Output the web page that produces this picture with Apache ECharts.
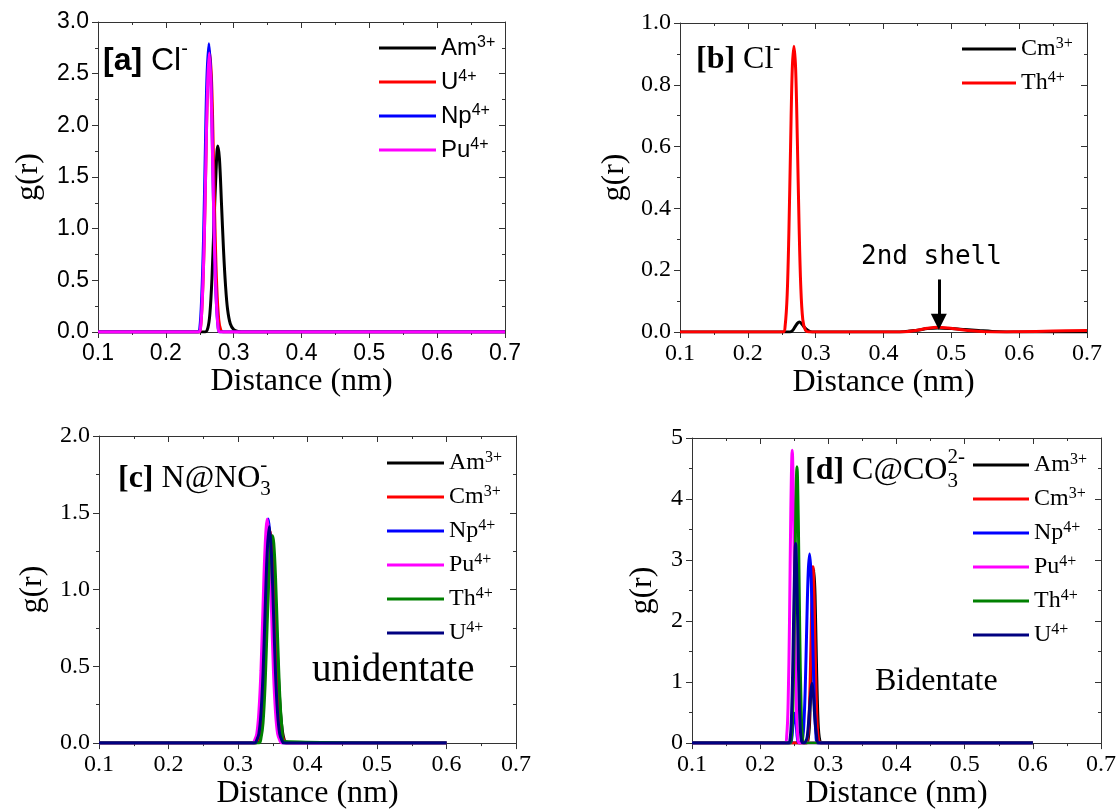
<!DOCTYPE html>
<html><head><meta charset="utf-8">
<script src="https://cdn.jsdelivr.net/npm/echarts@6/dist/echarts.min.js"></script>
<style>html,body{margin:0;padding:0;background:#fff}#c{width:1119px;height:811px}</style>
</head><body><div id="c"></div>
<script>
// ---------------- DATA ----------------
const xTicks = [0.1, 0.2, 0.3, 0.4, 0.5, 0.6, 0.7];
// Panel [a] Cl-
const aAmX = [0.1, 0.258, 0.262, 0.265, 0.268, 0.271, 0.274, 0.2765, 0.279, 0.282, 0.285, 0.288, 0.291, 0.295, 0.300, 0.306, 0.312, 0.7];
const aAmY = [0, 0, 0.04, 0.18, 0.52, 1.05, 1.55, 1.80, 1.68, 1.25, 0.80, 0.45, 0.22, 0.08, 0.025, 0.005, 0, 0];
const aUX = [0.1, 0.248, 0.251, 0.254, 0.2565, 0.259, 0.2615, 0.2645, 0.2675, 0.270, 0.2725, 0.275, 0.278, 0.281, 0.285, 0.7];
const aUY = [0, 0, 0.03, 0.34, 0.85, 1.62, 2.36, 2.72, 2.42, 1.75, 1.0, 0.45, 0.12, 0.02, 0, 0];
const aNpX = [0.1, 0.247, 0.250, 0.253, 0.2555, 0.258, 0.2605, 0.2635, 0.2665, 0.269, 0.2715, 0.274, 0.277, 0.280, 0.7];
const aNpY = [0, 0, 0.03, 0.36, 0.88, 1.68, 2.44, 2.79, 2.44, 1.68, 0.88, 0.36, 0.05, 0, 0];
const aPuX = [0.1, 0.248, 0.251, 0.254, 0.2565, 0.259, 0.2615, 0.264, 0.2665, 0.269, 0.2715, 0.274, 0.277, 0.280, 0.7];
const aPuY = [0, 0, 0.03, 0.36, 0.87, 1.65, 2.38, 2.70, 2.38, 1.65, 0.87, 0.36, 0.05, 0, 0];
// Panel [b] Cl-
const bCmX = [0.1, 0.262, 0.266, 0.270, 0.273, 0.276, 0.279, 0.283, 0.288, 0.295, 0.40, 0.43, 0.45, 0.465, 0.48, 0.50, 0.52, 0.54, 0.56, 0.60, 0.7];
const bCmY = [0, 0, 0.005, 0.018, 0.028, 0.032, 0.028, 0.016, 0.006, 0, 0, 0.001, 0.006, 0.011, 0.013, 0.011, 0.008, 0.005, 0.002, 0, 0];
const bThX = [0.1, 0.252, 0.255, 0.258, 0.2605, 0.263, 0.2655, 0.268, 0.2705, 0.273, 0.2755, 0.278, 0.281, 0.285, 0.29, 0.40, 0.43, 0.45, 0.465, 0.48, 0.495, 0.51, 0.53, 0.55, 0.57, 0.60, 0.65, 0.7];
const bThY = [0, 0, 0.02, 0.12, 0.32, 0.60, 0.85, 0.925, 0.85, 0.62, 0.35, 0.15, 0.04, 0.005, 0, 0, 0.001, 0.006, 0.012, 0.015, 0.013, 0.009, 0.004, 0.001, 0, 0.001, 0.003, 0.005];
// Panel [c] N@NO3-
const cAmX = [0.1, 0.326, 0.329, 0.332, 0.335, 0.338, 0.341, 0.344, 0.3475, 0.351, 0.354, 0.357, 0.360, 0.363, 0.366, 0.370, 0.6];
const cAmY = [0, 0, 0.02, 0.06, 0.17, 0.42, 0.80, 1.15, 1.34, 1.20, 0.90, 0.55, 0.28, 0.11, 0.03, 0, 0];
const cCmX = [0.1, 0.325, 0.328, 0.331, 0.334, 0.337, 0.340, 0.343, 0.3465, 0.350, 0.353, 0.356, 0.359, 0.362, 0.365, 0.369, 0.6];
const cCmY = [0, 0, 0.02, 0.06, 0.18, 0.44, 0.83, 1.20, 1.38, 1.22, 0.90, 0.54, 0.27, 0.10, 0.03, 0, 0];
const cNpX = [0.1, 0.3225, 0.3255, 0.3285, 0.3315, 0.3345, 0.3375, 0.3405, 0.3435, 0.3465, 0.3495, 0.3525, 0.3555, 0.3585, 0.3615, 0.3645, 0.6];
const cNpY = [0, 0, 0.02, 0.06, 0.2, 0.47, 0.89, 1.28, 1.46, 1.28, 0.89, 0.47, 0.2, 0.06, 0.02, 0, 0];
const cPuX = [0.1, 0.321, 0.324, 0.327, 0.330, 0.333, 0.336, 0.339, 0.342, 0.345, 0.348, 0.351, 0.354, 0.357, 0.360, 0.363, 0.6];
const cPuY = [0, 0, 0.02, 0.06, 0.2, 0.47, 0.89, 1.28, 1.46, 1.28, 0.89, 0.47, 0.2, 0.06, 0.02, 0, 0];
const cThX = [0.1, 0.330, 0.333, 0.336, 0.339, 0.342, 0.345, 0.3475, 0.3495, 0.3515, 0.354, 0.357, 0.360, 0.363, 0.367, 0.6];
const cThY = [0, 0, 0.03, 0.13, 0.38, 0.78, 1.14, 1.32, 1.35, 1.30, 1.08, 0.68, 0.32, 0.11, 0.01, 0];
const cUX = [0.1, 0.324, 0.327, 0.330, 0.333, 0.336, 0.339, 0.342, 0.345, 0.348, 0.351, 0.354, 0.357, 0.360, 0.363, 0.366, 0.6];
const cUY = [0, 0, 0.02, 0.06, 0.19, 0.45, 0.86, 1.24, 1.41, 1.24, 0.86, 0.45, 0.19, 0.06, 0.02, 0, 0];
// Panel [d] C@CO3 2-
const dAmX = [0.1, 0.267, 0.270, 0.2725, 0.275, 0.277, 0.2787, 0.2805, 0.2825, 0.285, 0.2875, 0.291, 0.6];
const dAmY = [0, 0, 0.04, 0.33, 1.34, 2.43, 2.85, 2.43, 1.34, 0.33, 0.04, 0, 0];
const dCmX = [0.1, 0.266, 0.269, 0.2715, 0.274, 0.276, 0.2775, 0.279, 0.281, 0.2835, 0.286, 0.290, 0.6];
const dCmY = [0, 0, 0.04, 0.34, 1.36, 2.47, 2.89, 2.47, 1.36, 0.34, 0.04, 0, 0];
const dNpX = [0.1, 0.243, 0.246, 0.2485, 0.2505, 0.2525, 0.255, 0.258, 0.261, 0.2635, 0.266, 0.2685, 0.2705, 0.2725, 0.2745, 0.2765, 0.279, 0.2815, 0.285, 0.6];
const dNpY = [0, 0, 0.05, 0.35, 0.49, 0.35, 0.05, 0, 0.02, 0.2, 0.85, 2.0, 2.8, 3.1, 2.8, 2.0, 0.85, 0.2, 0, 0];
const dPuX = [0.1, 0.236, 0.239, 0.241, 0.243, 0.245, 0.247, 0.249, 0.251, 0.253, 0.255, 0.258, 0.6];
const dPuY = [0, 0, 0.13, 0.65, 1.97, 3.84, 4.8, 3.84, 1.97, 0.65, 0.13, 0, 0];
const dThX = [0.1, 0.243, 0.246, 0.248, 0.250, 0.252, 0.254, 0.256, 0.258, 0.260, 0.262, 0.265, 0.6];
const dThY = [0, 0, 0.12, 0.61, 1.86, 3.62, 4.53, 3.62, 1.86, 0.61, 0.12, 0, 0];
const dUX = [0.1, 0.241, 0.244, 0.246, 0.248, 0.250, 0.252, 0.254, 0.256, 0.258, 0.260, 0.263, 0.266, 0.269, 0.272, 0.274, 0.276, 0.278, 0.280, 0.283, 0.286, 0.6];
const dUY = [0, 0, 0.08, 0.45, 1.35, 2.6, 3.27, 2.6, 1.35, 0.45, 0.08, 0, 0.01, 0.1, 0.5, 0.8, 0.98, 0.8, 0.45, 0.1, 0, 0];
// y-axis ranges
const yMax = [3.0, 1.0, 2.0, 5];
const yStep = [0.5, 0.2, 0.5, 1];
// 2nd shell arrow (data coords in panel b)
const arrowX = 0.4815, arrowFrom = 0.17, arrowTo = 0.033;

// ---------------- CHART ----------------
const SANS = 'Liberation Sans, Arial, sans-serif';
const SERIF = 'Liberation Serif, Times New Roman, serif';
const MONO = 'DejaVu Sans Mono, monospace';
const AX = '#333';
const grids = [
  {left: 98, top: 22, width: 407, height: 310},
  {left: 680, top: 23, width: 407, height: 309},
  {left: 99, top: 436, width: 417, height: 314},
  {left: 692, top: 438, width: 409, height: 312}
];
const tickFont = [SANS, SERIF, SERIF, SERIF];
const tickSize = [23, 24, 24, 24];
const yDec = [1, 1, 1, 0];
const yNameGap = [53, 49, 50, 33];
const xNameGap = [34, 34, 32, 32];

const xAxis = [], yAxis = [];
grids.forEach((g, i) => {
  const common = {type: 'value', gridIndex: i, min: 0.1, max: 0.7, interval: 0.1,
    splitLine: {show: false}, axisLine: {show: true, onZero: false, lineStyle: {color: AX, width: 1}}};
  xAxis.push(Object.assign({}, common, {position: 'bottom',
    axisTick: {show: true, inside: false, length: 6, lineStyle: {color: AX}},
    minorTick: {show: true, splitNumber: 2, length: 3, lineStyle: {color: AX}},
    axisLabel: {show: true, margin: 10, color: '#000', fontFamily: tickFont[i], fontSize: tickSize[i],
      formatter: v => v.toFixed(1), showMinLabel: true, showMaxLabel: true},
    name: 'Distance (nm)', nameLocation: 'middle', nameGap: xNameGap[i],
    nameTextStyle: {fontFamily: SERIF, fontSize: 32, color: '#000'}}));
  xAxis.push(Object.assign({}, common, {position: 'top',
    axisTick: {show: true, inside: true, length: 6, lineStyle: {color: AX}},
    minorTick: {show: true, splitNumber: 2, length: 3, lineStyle: {color: AX}},
    axisLabel: {show: false}}));
  const yc = {type: 'value', gridIndex: i, min: 0, max: yMax[i], interval: yStep[i],
    splitLine: {show: false}, axisLine: {show: true, onZero: false, lineStyle: {color: AX, width: 1}}};
  yAxis.push(Object.assign({}, yc, {position: 'left',
    axisTick: {show: true, inside: false, length: 6, lineStyle: {color: AX}},
    minorTick: {show: true, splitNumber: 2, length: 3, lineStyle: {color: AX}},
    axisLabel: {show: true, margin: 9, color: '#000', fontFamily: tickFont[i], fontSize: tickSize[i],
      formatter: v => v.toFixed(yDec[i]), showMinLabel: true, showMaxLabel: true},
    name: 'g(r)', nameLocation: 'middle', nameRotate: 90, nameGap: yNameGap[i],
    nameTextStyle: {fontFamily: SERIF, fontSize: 32, color: '#000'}}));
  yAxis.push(Object.assign({}, yc, {position: 'right',
    axisTick: {show: true, inside: true, length: 6, lineStyle: {color: AX}},
    minorTick: {show: true, splitNumber: 2, length: 3, lineStyle: {color: AX}},
    axisLabel: {show: false}}));
});

const C = {black: '#000000', red: '#ff0000', blue: '#0000ff', magenta: '#ff00ff', green: '#008000', navy: '#000080'};
const LBL = {};
function S(id, el, chg, xs, ys, color, gi) {
  LBL[id] = [el, chg];
  return {type: 'line', name: id, xAxisIndex: gi * 2, yAxisIndex: gi * 2,
    data: xs.map((x, k) => [x, ys[k]]), symbol: 'none', showSymbol: false,
    smooth: 0.35, color: color, lineStyle: {color: color, width: 3}, itemStyle: {color: color},
    animation: false, silent: true};
}
const series = [
  S('aAm', 'Am', '3+', aAmX, aAmY, C.black, 0),
  S('aU', 'U', '4+', aUX, aUY, C.red, 0),
  S('aNp', 'Np', '4+', aNpX, aNpY, C.blue, 0),
  S('aPu', 'Pu', '4+', aPuX, aPuY, C.magenta, 0),
  S('bCm', 'Cm', '3+', bCmX, bCmY, C.black, 1),
  S('bTh', 'Th', '4+', bThX, bThY, C.red, 1),
  S('cAm', 'Am', '3+', cAmX, cAmY, C.black, 2),
  S('cCm', 'Cm', '3+', cCmX, cCmY, C.red, 2),
  S('cNp', 'Np', '4+', cNpX, cNpY, C.blue, 2),
  S('cPu', 'Pu', '4+', cPuX, cPuY, C.magenta, 2),
  S('cTh', 'Th', '4+', cThX, cThY, C.green, 2),
  S('cU', 'U', '4+', cUX, cUY, C.navy, 2),
  S('dAm', 'Am', '3+', dAmX, dAmY, C.black, 3),
  S('dCm', 'Cm', '3+', dCmX, dCmY, C.red, 3),
  S('dNp', 'Np', '4+', dNpX, dNpY, C.blue, 3),
  S('dPu', 'Pu', '4+', dPuX, dPuY, C.magenta, 3),
  S('dTh', 'Th', '4+', dThX, dThY, C.green, 3),
  S('dU', 'U', '4+', dUX, dUY, C.navy, 3)
];
// arrow annotation in panel b
series.push({type: 'line', name: 'arrow', xAxisIndex: 2, yAxisIndex: 2, data: [], silent: true, animation: false,
  markLine: {silent: true, animation: false, symbol: ['none', 'triangle'], symbolSize: 16, symbolOffset: 0,
    label: {show: false}, emphasis: {disabled: true},
    lineStyle: {color: '#000', width: 3, type: 'solid', opacity: 1},
    itemStyle: {color: '#000'},
    data: [[{coord: [arrowX, arrowFrom]}, {coord: [arrowX, arrowTo]}]]}});

function legend(prefix, left, top, fam, itemWidth) {
  const names = series.filter(s => s.name.startsWith(prefix) && LBL[s.name]).map(s => s.name);
  return {data: names, left: left, top: top, orient: 'vertical', padding: 0, itemGap: 9,
    itemWidth: itemWidth, itemHeight: 3, icon: 'rect', selectedMode: false,
    formatter: n => '{m|' + LBL[n][0] + '}{s|' + LBL[n][1] + '}',
    textStyle: {color: '#000', rich: {
      m: {fontFamily: fam, fontSize: 24, lineHeight: 26, color: '#000'},
      s: {fontFamily: fam, fontSize: 16, lineHeight: 15, verticalAlign: 'top', color: '#000'}}}};
}

// rich labels built from measured segments
const ctx = document.createElement('canvas').getContext('2d');
function mw(t, size, fam, wt) { ctx.font = (wt || 'normal') + ' ' + size + 'px ' + fam; return ctx.measureText(t).width; }
function label(x0, yc, segs) {
  let x = x0, prevX = x0; const els = [];
  segs.forEach(s => {
    const sx = s.stack ? prevX : x;
    els.push({type: 'text', x: sx, y: yc + (s.dy || 0), silent: true,
      style: {text: s.t, fontSize: s.size, fontFamily: s.fam, fontWeight: s.wt || 'normal', fill: '#000',
        align: 'left', verticalAlign: 'middle', textAlign: 'left', textVerticalAlign: 'middle'}});
    if (!s.stack) { prevX = x; x += mw(s.t, s.size, s.fam, s.wt); }
  });
  return els;
}
const graphic = [].concat(
  label(103, 61, [{t: '[a]', size: 32, fam: SANS, wt: 'bold'}, {t: ' Cl', size: 32, fam: SANS}, {t: '-', size: 20, fam: SANS, dy: -12}]),
  label(696, 60, [{t: '[b]', size: 32, fam: SERIF, wt: 'bold'}, {t: ' Cl', size: 32, fam: SERIF}, {t: '-', size: 21, fam: SERIF, dy: -12}]),
  label(118, 479, [{t: '[c]', size: 32, fam: SERIF, wt: 'bold'}, {t: ' N@NO', size: 32, fam: SERIF}, {t: '3', size: 21, fam: SERIF, dy: 10}, {t: '-', size: 21, fam: SERIF, dy: -14, stack: true}]),
  label(805, 471, [{t: '[d]', size: 32, fam: SERIF, wt: 'bold'}, {t: ' C@CO', size: 32, fam: SERIF}, {t: '3', size: 21, fam: SERIF, dy: 10}, {t: '2-', size: 21, fam: SERIF, dy: -14, stack: true}]),
  label(861, 257, [{t: '2nd shell', size: 26, fam: MONO}]),
  label(312, 671, [{t: 'unidentate', size: 39, fam: SERIF}]),
  label(875, 682, [{t: 'Bidentate', size: 32, fam: SERIF}])
);

const chart = echarts.init(document.getElementById('c'), null, {renderer: 'canvas'});
chart.setOption({
  backgroundColor: '#fff', animation: false,
  grid: grids, xAxis: xAxis, yAxis: yAxis, series: series,
  legend: [legend('a', 379, 35, SANS, 57), legend('b', 962, 36, SERIF, 54),
           legend('c', 387, 450, SERIF, 57), legend('d', 973, 452, SERIF, 56)],
  graphic: graphic
});
</script></body></html>
